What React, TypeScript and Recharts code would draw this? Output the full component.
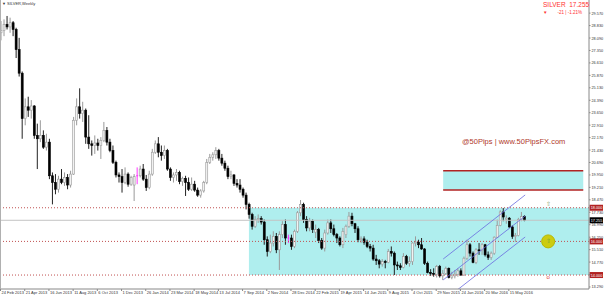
import { ComposedChart, Bar, XAxis, YAxis, ReferenceArea, ReferenceLine, ReferenceDot } from 'recharts'

// one tick label every 8 weeks, first bar = week of 24 Feb 2013
const weekLabels = [
  '24 Feb 2013', '21 Apr 2013', '16 Jun 2013', '11 Aug 2013', '6 Oct 2013', '1 Dec 2013',
  '26 Jan 2014', '23 Mar 2014', '18 May 2014', '13 Jul 2014', '7 Sep 2014', '2 Nov 2014',
  '28 Dec 2014', '22 Feb 2015', '19 Apr 2015', '14 Jun 2015', '9 Aug 2015', '4 Oct 2015',
  '29 Nov 2015', '24 Jan 2016', '20 Mar 2016', '15 May 2016',
]
const labelBars = [0, 8, 16, 24, 32, 40, 48, 56, 64, 72, 80, 88, 96, 104, 112, 120, 128, 136, 144, 152, 160, 168]

const priceTicks = [
  13.29, 14.03, 14.77, 15.51, 16.25, 16.99, 17.73, 18.47, 19.21, 19.95, 20.69, 21.43,
  22.17, 22.91, 23.65, 24.39, 25.13, 25.87, 26.61, 27.35, 28.09, 28.83, 29.57,
]

const opens = [
  28.40, 28.55, 28.90, 28.75, 29.00, 28.60, 27.40, 26.00, 23.30, 24.00,
  23.80, 24.05, 22.30, 22.10, 22.30, 21.60, 21.90, 19.90, 19.50, 19.10,
  19.70, 19.50, 19.80, 19.35, 20.00, 23.20, 24.00, 23.60, 23.80, 22.20,
  21.80, 21.70, 21.85, 21.70, 22.00, 22.60, 21.90, 21.40, 20.70, 19.95,
  19.85, 19.50, 20.00, 19.40, 19.35, 19.90, 19.90, 20.30, 19.70, 19.20,
  20.00, 21.30, 21.80, 21.30, 21.10, 21.40, 20.30, 19.80, 19.95, 20.10,
  19.55, 19.75, 19.50, 19.10, 19.40, 19.05, 18.75, 19.00, 19.50, 20.70,
  21.00, 21.15, 21.40, 20.95, 20.65, 20.35, 19.85, 19.95, 19.45, 19.35,
  19.10, 18.75, 18.20, 17.60, 16.90, 17.30, 17.35, 17.15, 16.10, 15.40,
  15.90, 16.30, 15.50, 16.40, 17.00, 16.20, 16.20, 15.70, 16.60, 17.70,
  18.20, 17.30, 16.80, 17.20, 16.55, 16.70, 16.05, 15.60, 16.50, 17.10,
  16.75, 16.40, 16.20, 15.80, 16.40, 16.90, 17.50, 17.05, 16.75, 16.10,
  16.15, 15.95, 15.70, 15.60, 14.95, 14.85, 14.65, 14.80, 14.75, 15.40,
  15.30, 14.60, 14.55, 14.45, 15.10, 14.70, 14.80, 15.90, 15.95, 15.80,
  15.55, 14.70, 14.15, 14.10, 14.05, 14.50, 13.95, 14.10, 14.40, 13.85,
  13.95, 14.05, 14.25, 14.00, 15.00, 15.80, 15.30, 14.75, 15.50, 15.45,
  15.80, 15.20, 15.05, 15.30, 16.25, 16.95, 17.75, 17.30, 17.38, 16.86,
  16.30, 16.35, 17.30, 17.47,
]
const highs = [
  29.10, 29.20, 29.40, 29.30, 29.10, 28.70, 28.10, 26.10, 24.50, 24.60,
  24.40, 24.10, 23.00, 23.20, 22.60, 22.40, 22.10, 20.10, 20.00, 19.90,
  20.30, 20.10, 20.00, 20.20, 23.40, 24.50, 25.10, 24.30, 23.90, 23.50,
  22.00, 22.30, 22.10, 22.20, 23.10, 22.80, 22.10, 21.70, 20.80, 20.10,
  20.30, 20.40, 20.10, 19.90, 20.00, 20.40, 20.50, 20.60, 19.95, 20.20,
  21.50, 22.00, 22.20, 21.70, 21.70, 21.50, 20.40, 20.10, 20.30, 20.20,
  19.85, 19.90, 19.80, 19.80, 19.60, 19.20, 19.10, 19.60, 20.90, 21.20,
  21.30, 21.60, 21.50, 21.20, 20.80, 20.50, 20.20, 20.00, 19.70, 19.70,
  19.20, 18.90, 18.30, 17.70, 17.50, 17.60, 17.50, 17.30, 16.30, 16.40,
  16.60, 16.50, 16.60, 17.20, 17.30, 16.40, 16.40, 16.70, 17.80, 18.46,
  18.30, 17.50, 17.40, 17.30, 17.00, 16.80, 16.20, 16.70, 17.30, 17.30,
  17.00, 16.50, 16.30, 16.80, 17.00, 17.75, 17.70, 17.10, 16.90, 16.30,
  16.30, 16.10, 15.85, 15.80, 15.20, 14.95, 14.95, 14.90, 15.55, 15.70,
  15.40, 14.80, 14.70, 15.30, 15.20, 15.10, 15.95, 16.30, 16.10, 16.20,
  15.60, 14.80, 14.35, 14.40, 14.60, 14.60, 14.30, 14.50, 14.45, 14.20,
  14.30, 14.40, 14.40, 15.10, 16.10, 15.90, 15.40, 15.60, 15.90, 15.90,
  15.85, 15.40, 15.40, 16.30, 17.30, 17.85, 17.98, 17.55, 17.45, 16.95,
  16.50, 17.40, 17.75, 17.55,
]
const lows = [
  27.95, 28.20, 28.60, 28.40, 28.20, 26.90, 25.80, 22.10, 22.90, 23.40,
  23.30, 22.10, 20.30, 21.90, 21.50, 21.40, 19.70, 18.20, 18.80, 18.90,
  19.40, 19.30, 19.10, 19.20, 19.95, 22.90, 23.30, 23.10, 21.80, 21.50,
  21.10, 21.20, 21.40, 20.90, 21.90, 21.70, 21.30, 20.60, 19.80, 19.50,
  18.90, 19.40, 19.25, 19.30, 18.40, 19.40, 19.80, 19.60, 19.00, 19.10,
  19.90, 21.20, 21.00, 20.80, 20.90, 20.20, 19.60, 19.50, 19.60, 19.40,
  19.30, 18.70, 19.00, 19.00, 18.95, 18.65, 18.60, 18.90, 19.40, 20.60,
  20.80, 20.90, 20.80, 20.50, 20.20, 19.70, 19.70, 19.30, 19.20, 18.90,
  18.60, 17.90, 17.35, 16.70, 16.80, 17.10, 17.00, 15.80, 15.10, 15.30,
  15.70, 15.30, 14.30, 16.20, 15.80, 15.90, 15.50, 15.60, 16.50, 17.50,
  17.10, 16.60, 16.60, 16.50, 16.20, 15.90, 15.50, 15.40, 16.40, 16.50,
  16.30, 15.90, 15.70, 15.60, 16.20, 16.80, 16.90, 16.50, 15.95, 15.90,
  15.80, 15.60, 15.40, 14.85, 14.60, 14.40, 14.50, 14.40, 14.70, 15.10,
  14.00, 14.30, 14.30, 14.40, 14.60, 14.50, 14.60, 15.70, 15.60, 15.50,
  14.60, 14.10, 13.95, 13.90, 13.85, 13.85, 13.70, 14.00, 13.80, 13.75,
  13.80, 13.90, 13.95, 13.95, 14.90, 15.10, 14.70, 14.65, 15.20, 15.20,
  15.10, 14.90, 14.90, 15.20, 16.20, 16.90, 17.20, 17.05, 16.80, 16.15,
  15.97, 16.30, 17.20, 17.20,
]
const closes = [
  28.55, 28.90, 28.75, 29.00, 28.60, 27.40, 26.00, 23.30, 24.00, 23.80,
  24.05, 22.30, 22.10, 22.30, 21.60, 21.90, 19.90, 19.50, 19.10, 19.70,
  19.50, 19.80, 19.35, 20.00, 23.20, 24.00, 23.60, 23.80, 22.20, 21.80,
  21.70, 21.85, 21.70, 22.00, 22.60, 21.90, 21.40, 20.70, 19.95, 19.85,
  19.50, 20.00, 19.40, 19.80, 19.85, 19.90, 20.30, 19.70, 19.20, 20.00,
  21.30, 21.80, 21.30, 21.10, 21.40, 20.30, 19.80, 19.95, 20.10, 19.55,
  19.75, 19.50, 19.10, 19.40, 19.05, 18.75, 19.00, 19.50, 20.70, 21.00,
  21.15, 21.40, 20.95, 20.65, 20.35, 19.85, 19.95, 19.45, 19.35, 19.10,
  18.75, 18.20, 17.60, 16.90, 17.30, 17.35, 17.15, 16.10, 15.40, 15.90,
  16.30, 15.50, 16.40, 17.00, 16.20, 16.20, 15.70, 16.60, 17.70, 18.20,
  17.30, 16.80, 17.20, 16.70, 16.70, 16.05, 15.60, 16.50, 17.10, 16.75,
  16.40, 16.20, 15.80, 16.60, 16.90, 17.50, 17.05, 16.75, 16.10, 16.15,
  15.95, 15.70, 15.60, 14.95, 14.85, 14.65, 14.80, 14.75, 15.40, 15.30,
  14.60, 14.55, 14.45, 15.10, 14.70, 14.80, 15.90, 15.95, 15.80, 15.55,
  14.70, 14.15, 14.10, 14.05, 14.50, 13.95, 14.10, 14.40, 13.85, 13.95,
  14.05, 14.25, 14.00, 15.00, 15.80, 15.30, 14.75, 15.50, 15.45, 15.80,
  15.20, 15.05, 15.30, 16.25, 16.95, 17.75, 17.45, 17.38, 16.86, 16.30,
  16.35, 17.30, 17.47, 17.255,
]

// drawn objects on the chart (price levels and bar positions)
const zoneLow = 14.0
const zoneMid = 16.0
const zoneHigh = 18.0
const lastPrice = 17.255
const zoneStartBar = 82.1
const targetLow = 19.05
const targetHigh = 20.2
const targetBars = [146.3, 192.6]
const channelUpper = [{ x: 146.3, y: 14.95 }, { x: 173.4, y: 18.76 }]
const channelMid = [{ x: 146.3, y: 13.71 }, { x: 173.4, y: 17.51 }]
const channelLow = [{ x: 146.3, y: 12.46 }, { x: 173.4, y: 16.26 }]
const markerBar = 181

const data = opens.map((o, i) => ({ i, open: o, high: highs[i], low: lows[i], close: closes[i] }))

const FONT = '"Liberation Sans", Arial, sans-serif'
const X_MIN = -0.17
const X_MAX = 194.5

function Candle(props: any) {
  const { x, y, width, height, payload } = props
  const { open, close, high, low } = payload
  const top = Math.min(y, y + height)
  const h = Math.abs(height)
  const toY = (v: number) => (high === low ? top : top + ((high - v) / (high - low)) * h)
  const cx = x + width / 2
  if (open === close) {
    const yy = toY(open)
    return (
      <g>
        <line x1={cx} x2={cx} y1={top} y2={top + h} stroke="#ff33ff" strokeWidth={1} />
        <line x1={x} x2={x + width} y1={yy} y2={yy} stroke="#ff33ff" strokeWidth={1} />
      </g>
    )
  }
  const up = close > open
  const y1 = toY(Math.max(open, close))
  const y2 = toY(Math.min(open, close))
  return (
    <g>
      <line x1={cx} x2={cx} y1={top} y2={top + h} stroke={up ? '#9a9a9a' : '#222'} strokeWidth={1} />
      <rect
        x={x}
        y={y1}
        width={width}
        height={Math.max(1, y2 - y1)}
        fill={up ? '#f2f2f2' : '#000'}
        stroke={up ? '#9a9a9a' : '#000'}
        strokeWidth={0.6}
      />
    </g>
  )
}

function DateTick({ x, payload }: any) {
  const k = labelBars.indexOf(payload.value)
  return (
    <text x={x + 1} y={293.5} fontSize={4} fill="#333" fontFamily={FONT}>
      {weekLabels[k]}
    </text>
  )
}

function PriceTick({ y, payload }: any) {
  // the 14.030 label sits under the 14.000 price box, as in the original
  if (Math.abs(payload.value - zoneLow) < 0.1) return <g />
  return (
    <text x={591.5} y={y + 1.5} fontSize={3.8} fill="#333" fontFamily={FONT}>
      {payload.value.toFixed(3)}
    </text>
  )
}

const priceBox = (fill: string, value: number) => (p: any) => {
  const vb = p.viewBox
  const bx = vb.x + vb.width + 0.5
  return (
    <g>
      <rect x={bx} y={vb.y - 3} width={13.5} height={6} fill={fill} />
      <text x={bx + 1.2} y={vb.y + 1.5} fontSize={3.8} fill="#fff" fontFamily={FONT}>
        {value.toFixed(3)}
      </text>
    </g>
  )
}

const symbol = (txt: string, color: string, dy: number) => (p: any) => (
  <text x={p.cx} y={p.cy + dy} fontSize={6} fill={color} textAnchor="middle" fontFamily={FONT}>
    {txt}
  </text>
)

export default function App() {
  return (
    <div style={{ position: 'absolute', left: 0, top: 0, width: 604, height: 296, background: '#fff' }}>
      <ComposedChart width={604} height={296} data={data} margin={{ top: 0, right: 0, bottom: 0, left: 0 }}>
        <XAxis
          dataKey="i"
          type="number"
          domain={[X_MIN, X_MAX]}
          allowDataOverflow
          ticks={labelBars}
          tick={<DateTick />}
          tickSize={2}
          height={7}
          stroke="#888"
          interval={0}
        />
        <YAxis
          orientation="right"
          domain={[13.17, 30.35]}
          allowDataOverflow
          ticks={priceTicks}
          tick={<PriceTick />}
          tickSize={1.5}
          width={15}
          stroke="#888"
          interval={0}
        />
        <ReferenceArea x1={zoneStartBar} x2={X_MAX} y1={zoneLow} y2={zoneHigh} fill="#afeeee" fillOpacity={1} stroke="none" ifOverflow="hidden" />
        <ReferenceArea x1={targetBars[0]} x2={targetBars[1]} y1={targetLow} y2={targetHigh} fill="#afeeee" fillOpacity={1} stroke="none" />
        <ReferenceLine segment={[{ x: targetBars[0], y: targetHigh }, { x: targetBars[1], y: targetHigh }]} stroke="#b22222" strokeWidth={1.5} />
        <ReferenceLine segment={[{ x: targetBars[0], y: targetLow }, { x: targetBars[1], y: targetLow }]} stroke="#b22222" strokeWidth={1.5} />
        <ReferenceLine y={lastPrice} stroke="#c4c4c4" strokeWidth={1} label={priceBox('#000', lastPrice)} />
        <ReferenceLine y={zoneHigh} stroke="#c05050" strokeDasharray="1 2" label={priceBox('#b22222', zoneHigh)} />
        <ReferenceLine y={zoneMid} stroke="#c05050" strokeDasharray="1 2" label={priceBox('#b22222', zoneMid)} />
        <ReferenceLine y={zoneLow} stroke="#c05050" strokeDasharray="1 2" label={priceBox('#b22222', zoneLow)} />
        <Bar dataKey={(d: any) => [d.low, d.high]} barSize={2} shape={<Candle />} isAnimationActive={false} />
        <ReferenceLine segment={channelUpper} stroke="#6a6ae0" strokeWidth={0.8} ifOverflow="hidden" />
        <ReferenceLine segment={channelMid} stroke="#6a6ae0" strokeWidth={0.8} ifOverflow="hidden" />
        <ReferenceLine segment={channelLow} stroke="#6a6ae0" strokeWidth={0.8} ifOverflow="hidden" />
        <ReferenceDot x={markerBar} y={zoneMid} r={6.5} fill="#cccc10" stroke="#b8b800" />
        <ReferenceDot x={markerBar} y={zoneHigh} r={0} shape={symbol('⇧', '#8aa070', -1.5)} />
        <ReferenceDot x={markerBar} y={zoneMid} r={0} shape={symbol('⇧', '#70a040', 2)} />
        <ReferenceDot x={markerBar} y={zoneLow} r={0} shape={symbol('o', '#e04040', 4)} />
      </ComposedChart>
      <div style={{ position: 'absolute', left: 0, top: 0, width: 1, height: 289, background: '#b0b0b0' }} />
      <div style={{ position: 'absolute', left: 2, top: 1, fontSize: 4, fontFamily: FONT, color: '#333', whiteSpace: 'nowrap' }}>
        ▼ SILVER,Weekly
      </div>
      <div style={{ position: 'absolute', left: 543, top: 1, fontSize: 6.5, fontFamily: FONT, color: '#ff3030', whiteSpace: 'nowrap' }}>
        SILVER&nbsp; 17.255
      </div>
      <div style={{ position: 'absolute', left: 543, top: 10, fontSize: 4.5, fontFamily: FONT, color: '#ff3030', whiteSpace: 'nowrap' }}>
        ▼&nbsp;&nbsp;&nbsp;&nbsp;&nbsp;&nbsp;&nbsp; -21 | -1.21%
      </div>
      <div style={{ position: 'absolute', left: 462, top: 137, fontSize: 7.5, fontFamily: FONT, color: '#b0392b', whiteSpace: 'nowrap' }}>
        @50Pips | www.50PipsFX.com
      </div>
    </div>
  )
}
